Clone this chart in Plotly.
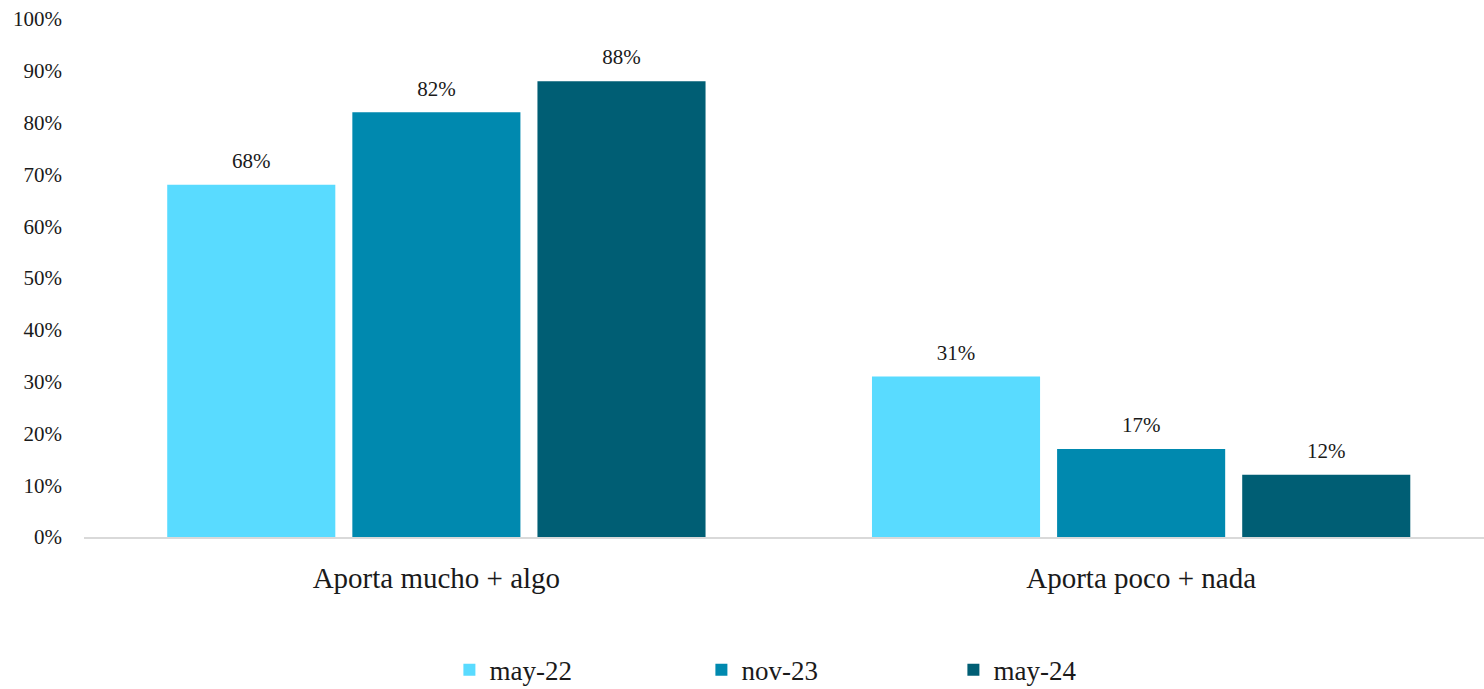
import plotly.graph_objects as go

categories = ["Aporta mucho + algo", "Aporta poco + nada"]
series_names = ["may-22", "nov-23", "may-24"]
may22 = [68, 31]
nov23 = [82, 17]
may24 = [88, 12]
colors = ["#59DBFF", "#0089AF", "#005E74"]

FONT = "Palatino Linotype, Book Antiqua, Palatino, Liberation Serif, serif"

fig = go.Figure()
for name, vals, col in zip(series_names, [may22, nov23, may24], colors):
    fig.add_trace(go.Bar(
        x=categories, y=vals, name=name,
        marker=dict(color=col, line=dict(width=0)),
        text=[f"{v}%" for v in vals],
        texttemplate="<span style='font-size:21px'>%{text}</span><br>&nbsp;",
        textposition="outside",
        textfont=dict(family=FONT, size=9, color="#1a1a1a"),
        cliponaxis=False,
    ))

fig.update_layout(
    width=1484, height=689,
    paper_bgcolor="white", plot_bgcolor="white",
    margin=dict(l=84, r=0, t=19, b=152, autoexpand=False),
    barmode="group", bargap=0.212, bargroupgap=0.092,
    font=dict(family=FONT, color="#1a1a1a"),
    showlegend=True,
    legend=dict(orientation="h", x=0.531, xanchor="center", y=-0.21, yanchor="top",
                entrywidth=207, entrywidthmode="pixels",
                font=dict(family=FONT, size=27, color="#1a1a1a")),
)
fig.update_xaxes(range=[-0.5, 1.4865], showline=True, linecolor="#D9D9D9", linewidth=2,
                 ticks="", tickfont=dict(family=FONT, size=29, color="#1a1a1a"),
                 showgrid=False, ticklabelstandoff=14, automargin=False)
fig.update_yaxes(range=[0, 100], dtick=10, ticksuffix="%", showgrid=False, zeroline=False,
                 showline=False, tickfont=dict(family=FONT, size=21, color="#1a1a1a"),
                 ticklabelstandoff=21, automargin=False)

fig.write_html("out.html", config={"displayModeBar": False},
               post_script="document.body.style.margin='0';")
